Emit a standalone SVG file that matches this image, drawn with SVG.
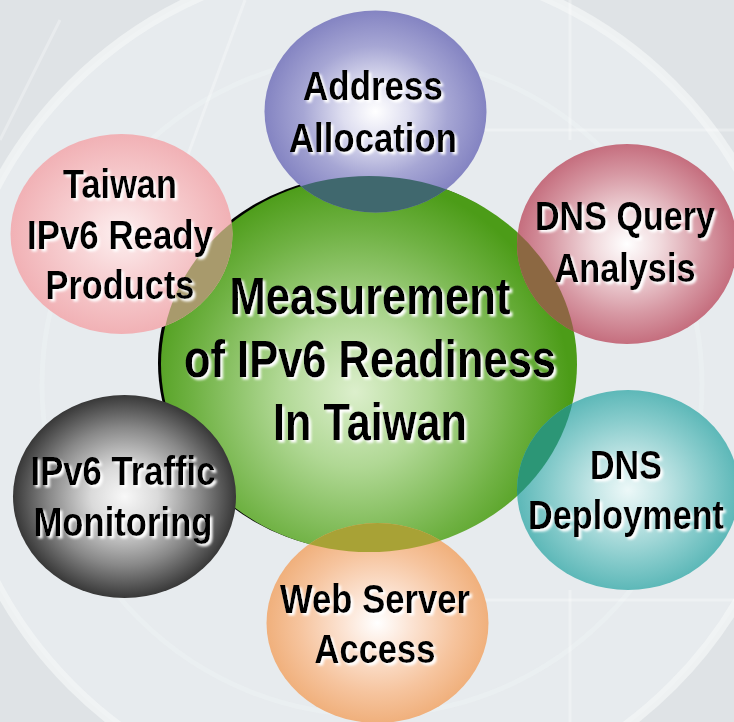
<svg xmlns="http://www.w3.org/2000/svg" width="734" height="722" viewBox="0 0 734 722">
  <style>
    .lbl { font-family: "Liberation Sans Narrow", "Liberation Sans", Arial, sans-serif; font-weight: bold; fill: #000; text-anchor: middle; filter: url(#halo); }
    .sat { font-size: 41px; }
    .core { font-size: 51px; }
    .grid { stroke: #ffffff; stroke-opacity: 0.3; stroke-width: 3; fill: none; }
  </style>
  <defs>
    <filter id="halo" x="-4%" y="-20%" width="108%" height="150%">
      <feDropShadow dx="2.5" dy="2.5" stdDeviation="1.2" flood-color="#ffffff" flood-opacity="1"/>
    </filter>
    <radialGradient id="gGreen" cx="355" cy="392" r="215" gradientUnits="userSpaceOnUse">
      <stop offset="0" stop-color="#dcefcc"/>
      <stop offset="0.35" stop-color="#b0d894"/>
      <stop offset="0.75" stop-color="#70b244"/>
      <stop offset="1" stop-color="#4c9c18"/>
    </radialGradient>
    <radialGradient id="gBlue">
      <stop offset="0" stop-color="#ffffff"/>
      <stop offset="0.3" stop-color="#dedef0"/>
      <stop offset="0.65" stop-color="#a6a6d4"/>
      <stop offset="1" stop-color="#8484c2"/>
    </radialGradient>
    <radialGradient id="gPink">
      <stop offset="0" stop-color="#fdf0f0"/>
      <stop offset="0.4" stop-color="#f8d4d6"/>
      <stop offset="1" stop-color="#f1b1b5"/>
    </radialGradient>
    <radialGradient id="gRed">
      <stop offset="0" stop-color="#ffffff"/>
      <stop offset="0.3" stop-color="#f1dadd"/>
      <stop offset="0.7" stop-color="#d799a4"/>
      <stop offset="1" stop-color="#c56e7e"/>
    </radialGradient>
    <radialGradient id="gTeal">
      <stop offset="0" stop-color="#ecf8f8"/>
      <stop offset="0.3" stop-color="#c6e7e7"/>
      <stop offset="0.7" stop-color="#88cccc"/>
      <stop offset="1" stop-color="#5db8b8"/>
    </radialGradient>
    <radialGradient id="gOrange">
      <stop offset="0" stop-color="#ffffff"/>
      <stop offset="0.3" stop-color="#fce4d4"/>
      <stop offset="0.7" stop-color="#f6c49e"/>
      <stop offset="1" stop-color="#f0b07c"/>
    </radialGradient>
    <radialGradient id="gGrey">
      <stop offset="0" stop-color="#f8f8f8"/>
      <stop offset="0.3" stop-color="#dadada"/>
      <stop offset="0.68" stop-color="#888888"/>
      <stop offset="1" stop-color="#383838"/>
    </radialGradient>
    <clipPath id="coreClip">
      <ellipse cx="369" cy="364" rx="208" ry="188"/>
    </clipPath>
  </defs>

  <!-- backdrop: pale panel with faint rings and grid strokes -->
  <g id="backdrop">
    <rect width="734" height="722" fill="#dfe3e6"/>
    <circle cx="372" cy="385" r="425" fill="#e7ebee"/>
    <circle cx="372" cy="385" r="425" fill="none" stroke="#f3f6f7" stroke-width="10" stroke-opacity="0.7"/>
    <circle cx="372" cy="385" r="330" fill="none" stroke="#f2f5f6" stroke-width="5" stroke-opacity="0.35"/>
    <line class="grid" x1="570" y1="0" x2="570" y2="140"/>
    <line class="grid" x1="480" y1="130" x2="734" y2="130"/>
    <line class="grid" x1="570" y1="590" x2="570" y2="722"/>
    <line class="grid" x1="480" y1="600" x2="734" y2="600"/>
    <line class="grid" x1="0" y1="140" x2="60" y2="20"/>
    <line class="grid" x1="175" y1="190" x2="245" y2="0"/>
  </g>

  <!-- central node -->
  <g id="core">
    <ellipse cx="366" cy="363" rx="208" ry="188" fill="#000"/>
    <ellipse cx="369" cy="364" rx="208" ry="188" fill="url(#gGreen)"/>
  </g>

  <!-- satellite nodes -->
  <g id="address">
    <ellipse cx="375.5" cy="111.5" rx="111" ry="101" fill="url(#gBlue)"/>
    <ellipse cx="375.5" cy="111.5" rx="111" ry="101" fill="#40686e" clip-path="url(#coreClip)"/>
    <text class="lbl sat" x="373" y="100" textLength="140" lengthAdjust="spacingAndGlyphs">Address</text>
    <text class="lbl sat" x="373" y="152" textLength="168" lengthAdjust="spacingAndGlyphs">Allocation</text>
  </g>

  <g id="products">
    <ellipse cx="121.5" cy="234" rx="111" ry="100" fill="url(#gPink)"/>
    <ellipse cx="121.5" cy="234" rx="111" ry="100" fill="#a89a6c" clip-path="url(#coreClip)"/>
    <text class="lbl sat" x="120" y="198" textLength="114" lengthAdjust="spacingAndGlyphs">Taiwan</text>
    <text class="lbl sat" x="120" y="249" textLength="186" lengthAdjust="spacingAndGlyphs">IPv6 Ready</text>
    <text class="lbl sat" x="120" y="299" textLength="149" lengthAdjust="spacingAndGlyphs">Products</text>
  </g>

  <g id="query">
    <ellipse cx="627" cy="244" rx="110" ry="100" fill="url(#gRed)"/>
    <ellipse cx="627" cy="244" rx="110" ry="100" fill="#8c6842" clip-path="url(#coreClip)"/>
    <text class="lbl sat" x="625" y="230" textLength="180" lengthAdjust="spacingAndGlyphs">DNS Query</text>
    <text class="lbl sat" x="625" y="282" textLength="141" lengthAdjust="spacingAndGlyphs">Analysis</text>
  </g>

  <g id="deployment">
    <ellipse cx="628" cy="490" rx="111" ry="100" fill="url(#gTeal)"/>
    <ellipse cx="628" cy="490" rx="111" ry="100" fill="#2c9676" clip-path="url(#coreClip)"/>
    <text class="lbl sat" x="626" y="479" textLength="72" lengthAdjust="spacingAndGlyphs">DNS</text>
    <text class="lbl sat" x="626" y="529" textLength="196" lengthAdjust="spacingAndGlyphs">Deployment</text>
  </g>

  <g id="webserver">
    <ellipse cx="377.5" cy="623" rx="111" ry="100" fill="url(#gOrange)"/>
    <ellipse cx="377.5" cy="623" rx="111" ry="100" fill="#a8a236" clip-path="url(#coreClip)"/>
    <text class="lbl sat" x="375" y="613" textLength="190" lengthAdjust="spacingAndGlyphs">Web Server</text>
    <text class="lbl sat" x="375" y="663" textLength="121" lengthAdjust="spacingAndGlyphs">Access</text>
  </g>

  <g id="traffic">
    <ellipse cx="124.5" cy="496.5" rx="111.5" ry="101.5" fill="url(#gGrey)"/>
    <text class="lbl sat" x="123" y="485" textLength="185" lengthAdjust="spacingAndGlyphs">IPv6 Traffic</text>
    <text class="lbl sat" x="123" y="536" textLength="179" lengthAdjust="spacingAndGlyphs">Monitoring</text>
  </g>

  <!-- central caption -->
  <g id="core-label">
    <text class="lbl core" x="370" y="314" textLength="281" lengthAdjust="spacingAndGlyphs">Measurement</text>
    <text class="lbl core" x="370" y="377" textLength="372" lengthAdjust="spacingAndGlyphs">of IPv6 Readiness</text>
    <text class="lbl core" x="370" y="440" textLength="194" lengthAdjust="spacingAndGlyphs">In Taiwan</text>
  </g>

  <!-- no connectors: the nodes touch the centre directly -->
  <g id="connectors"/>
</svg>
